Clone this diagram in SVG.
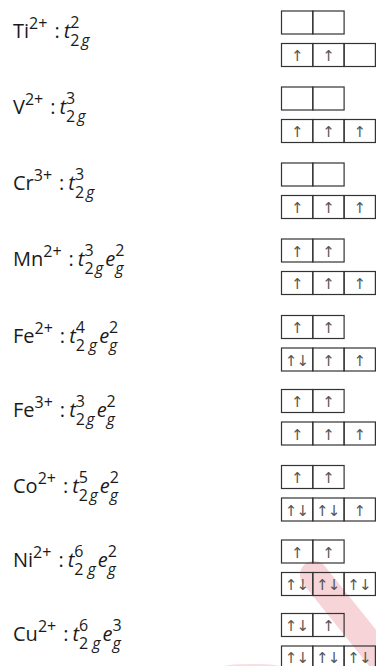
<svg xmlns="http://www.w3.org/2000/svg" width="376" height="666" viewBox="0 0 376 666">
<style>
.lb{font-family:"Open Sans","Noto Sans",sans-serif;font-size:20px;fill:#1a1a1a}
.sc{font-size:16px}
.it{font-style:italic}
.bx{fill:none;stroke:#333;stroke-width:1.2}
.ar{font-family:"DejaVu Sans",sans-serif;font-size:15px;fill:#555;text-anchor:middle}
</style>
<rect width="376" height="666" fill="#fff"/>
<g id="watermark" opacity="0.75">
<path d="M314,575 L392,672" stroke="#f3c6ca" stroke-width="28" stroke-linecap="round" fill="none"/>
<ellipse cx="252" cy="668" rx="34" ry="4" fill="#f6d3d6"/>
</g>
<g id="connectors"/>

<g id="ti">
<text class="lb" x="13" y="38">Ti<tspan class="sc" dy="-9">2+</tspan><tspan dx="7" dy="9">:</tspan><tspan class="it" dx="4">t</tspan><tspan class="sc" dy="-10">2</tspan><tspan class="sc" dx="-9.2" dy="18">2</tspan><tspan class="sc it" dx="2">g</tspan></text>
<rect class="bx" x="281.5" y="11" width="31.3" height="23"/><rect class="bx" x="312.8" y="11" width="31.3" height="23"/>
<rect class="bx" x="281.5" y="43.5" width="31.3" height="23"/><rect class="bx" x="312.8" y="43.5" width="31.3" height="23"/><rect class="bx" x="344.1" y="43.5" width="31.3" height="23"/>
<text class="ar" x="297.2" y="61">↑</text><text class="ar" x="328.5" y="61">↑</text>
</g>

<g id="v">
<text class="lb" x="13" y="114">V<tspan class="sc" dy="-9">2+</tspan><tspan dx="7" dy="9">:</tspan><tspan class="it" dx="4">t</tspan><tspan class="sc" dy="-10">3</tspan><tspan class="sc" dx="-9.2" dy="18">2</tspan><tspan class="sc it" dx="2">g</tspan></text>
<rect class="bx" x="281.5" y="87" width="31.3" height="23"/><rect class="bx" x="312.8" y="87" width="31.3" height="23"/>
<rect class="bx" x="281.5" y="119.5" width="31.3" height="23"/><rect class="bx" x="312.8" y="119.5" width="31.3" height="23"/><rect class="bx" x="344.1" y="119.5" width="31.3" height="23"/>
<text class="ar" x="297.2" y="137">↑</text><text class="ar" x="328.5" y="137">↑</text><text class="ar" x="359.8" y="137">↑</text>
</g>

<g id="cr">
<text class="lb" x="13" y="190">Cr<tspan class="sc" dy="-9">3+</tspan><tspan dx="7" dy="9">:</tspan><tspan class="it" dx="4">t</tspan><tspan class="sc" dy="-10">3</tspan><tspan class="sc" dx="-9.2" dy="18">2</tspan><tspan class="sc it" dx="2">g</tspan></text>
<rect class="bx" x="281.5" y="163" width="31.3" height="23"/><rect class="bx" x="312.8" y="163" width="31.3" height="23"/>
<rect class="bx" x="281.5" y="195.5" width="31.3" height="23"/><rect class="bx" x="312.8" y="195.5" width="31.3" height="23"/><rect class="bx" x="344.1" y="195.5" width="31.3" height="23"/>
<text class="ar" x="297.2" y="213">↑</text><text class="ar" x="328.5" y="213">↑</text><text class="ar" x="359.8" y="213">↑</text>
</g>

<g id="mn">
<text class="lb" x="13" y="266">Mn<tspan class="sc" dy="-9">2+</tspan><tspan dx="7" dy="9">:</tspan><tspan class="it" dx="4">t</tspan><tspan class="sc" dy="-10">3</tspan><tspan class="sc" dx="-9.2" dy="18">2</tspan><tspan class="sc it" dx="1.5">g</tspan><tspan class="it" dx="2" dy="-8">e</tspan><tspan class="sc" dy="-10">2</tspan><tspan class="sc it" dx="-9.2" dy="18">g</tspan></text>
<rect class="bx" x="281.5" y="239" width="31.3" height="23"/><rect class="bx" x="312.8" y="239" width="31.3" height="23"/>
<text class="ar" x="297.2" y="256.5">↑</text><text class="ar" x="328.5" y="256.5">↑</text>
<rect class="bx" x="281.5" y="271.5" width="31.3" height="23"/><rect class="bx" x="312.8" y="271.5" width="31.3" height="23"/><rect class="bx" x="344.1" y="271.5" width="31.3" height="23"/>
<text class="ar" x="297.2" y="289">↑</text><text class="ar" x="328.5" y="289">↑</text><text class="ar" x="359.8" y="289">↑</text>
</g>

<g id="fe2">
<text class="lb" x="13" y="342.5">Fe<tspan class="sc" dy="-9">2+</tspan><tspan dx="7" dy="9">:</tspan><tspan class="it" dx="4">t</tspan><tspan class="sc" dy="-10">4</tspan><tspan class="sc" dx="-9.2" dy="18">2</tspan><tspan class="sc it" dx="4">g</tspan><tspan class="it" dx="2" dy="-8">e</tspan><tspan class="sc" dy="-10">2</tspan><tspan class="sc it" dx="-9.2" dy="18">g</tspan></text>
<rect class="bx" x="281.5" y="315.5" width="31.3" height="23"/><rect class="bx" x="312.8" y="315.5" width="31.3" height="23"/>
<text class="ar" x="297.2" y="333">↑</text><text class="ar" x="328.5" y="333">↑</text>
<rect class="bx" x="281.5" y="348" width="31.3" height="23"/><rect class="bx" x="312.8" y="348" width="31.3" height="23"/><rect class="bx" x="344.1" y="348" width="31.3" height="23"/>
<text class="ar" x="291" y="365.5">↑</text><text class="ar" x="302.8" y="365.5">↓</text><text class="ar" x="328.5" y="365.5">↑</text><text class="ar" x="359.8" y="365.5">↑</text>
</g>

<g id="fe3">
<text class="lb" x="13" y="416.5">Fe<tspan class="sc" dy="-9">3+</tspan><tspan dx="7" dy="9">:</tspan><tspan class="it" dx="4">t</tspan><tspan class="sc" dy="-10">3</tspan><tspan class="sc" dx="-9.2" dy="18">2</tspan><tspan class="sc it" dx="1.5">g</tspan><tspan class="it" dx="2" dy="-8">e</tspan><tspan class="sc" dy="-10">2</tspan><tspan class="sc it" dx="-9.2" dy="18">g</tspan></text>
<rect class="bx" x="281.5" y="389.5" width="31.3" height="23"/><rect class="bx" x="312.8" y="389.5" width="31.3" height="23"/>
<text class="ar" x="297.2" y="407">↑</text><text class="ar" x="328.5" y="407">↑</text>
<rect class="bx" x="281.5" y="422" width="31.3" height="23"/><rect class="bx" x="312.8" y="422" width="31.3" height="23"/><rect class="bx" x="344.1" y="422" width="31.3" height="23"/>
<text class="ar" x="297.2" y="439.5">↑</text><text class="ar" x="328.5" y="439.5">↑</text><text class="ar" x="359.8" y="439.5">↑</text>
</g>

<g id="co">
<text class="lb" x="13" y="492.5">Co<tspan class="sc" dy="-9">2+</tspan><tspan dx="7" dy="9">:</tspan><tspan class="it" dx="4">t</tspan><tspan class="sc" dy="-10">5</tspan><tspan class="sc" dx="-9.2" dy="18">2</tspan><tspan class="sc it" dx="1.5">g</tspan><tspan class="it" dx="2" dy="-8">e</tspan><tspan class="sc" dy="-10">2</tspan><tspan class="sc it" dx="-9.2" dy="18">g</tspan></text>
<rect class="bx" x="281.5" y="465.5" width="31.3" height="23"/><rect class="bx" x="312.8" y="465.5" width="31.3" height="23"/>
<text class="ar" x="297.2" y="483">↑</text><text class="ar" x="328.5" y="483">↑</text>
<rect class="bx" x="281.5" y="498" width="31.3" height="23"/><rect class="bx" x="312.8" y="498" width="31.3" height="23"/><rect class="bx" x="344.1" y="498" width="31.3" height="23"/>
<text class="ar" x="291" y="515.5">↑</text><text class="ar" x="302.8" y="515.5">↓</text><text class="ar" x="322.3" y="515.5">↑</text><text class="ar" x="334.1" y="515.5">↓</text><text class="ar" x="359.8" y="515.5">↑</text>
</g>

<g id="ni">
<text class="lb" x="13" y="567">Ni<tspan class="sc" dy="-9">2+</tspan><tspan dx="7" dy="9">:</tspan><tspan class="it" dx="4">t</tspan><tspan class="sc" dy="-10">6</tspan><tspan class="sc" dx="-9.2" dy="18">2</tspan><tspan class="sc it" dx="4">g</tspan><tspan class="it" dx="2" dy="-8">e</tspan><tspan class="sc" dy="-10">2</tspan><tspan class="sc it" dx="-9.2" dy="18">g</tspan></text>
<rect class="bx" x="281.5" y="540" width="31.3" height="23"/><rect class="bx" x="312.8" y="540" width="31.3" height="23"/>
<text class="ar" x="297.2" y="557.5">↑</text><text class="ar" x="328.5" y="557.5">↑</text>
<rect class="bx" x="281.5" y="572.5" width="31.3" height="23"/><rect class="bx" x="312.8" y="572.5" width="31.3" height="23"/><rect class="bx" x="344.1" y="572.5" width="31.3" height="23"/>
<text class="ar" x="291" y="590">↑</text><text class="ar" x="302.8" y="590">↓</text><text class="ar" x="322.3" y="590">↑</text><text class="ar" x="334.1" y="590">↓</text><text class="ar" x="353.6" y="590">↑</text><text class="ar" x="365.4" y="590">↓</text>
</g>

<g id="cu">
<text class="lb" x="13" y="640.5">Cu<tspan class="sc" dy="-9">2+</tspan><tspan dx="7" dy="9">:</tspan><tspan class="it" dx="4">t</tspan><tspan class="sc" dy="-10">6</tspan><tspan class="sc" dx="-9.2" dy="18">2</tspan><tspan class="sc it" dx="4">g</tspan><tspan class="it" dx="2" dy="-8">e</tspan><tspan class="sc" dy="-10">3</tspan><tspan class="sc it" dx="-9.2" dy="18">g</tspan></text>
<rect class="bx" x="281.5" y="613.5" width="31.3" height="23"/><rect class="bx" x="312.8" y="613.5" width="31.3" height="23"/>
<text class="ar" x="291" y="631">↑</text><text class="ar" x="302.8" y="631">↓</text><text class="ar" x="328.5" y="631">↑</text>
<rect class="bx" x="281.5" y="646" width="31.3" height="23"/><rect class="bx" x="312.8" y="646" width="31.3" height="23"/><rect class="bx" x="344.1" y="646" width="31.3" height="23"/>
<text class="ar" x="291" y="663">↑</text><text class="ar" x="302.8" y="663">↓</text><text class="ar" x="322.3" y="663">↑</text><text class="ar" x="334.1" y="663">↓</text><text class="ar" x="353.6" y="663">↑</text><text class="ar" x="365.4" y="663">↓</text>
</g>
</svg>
